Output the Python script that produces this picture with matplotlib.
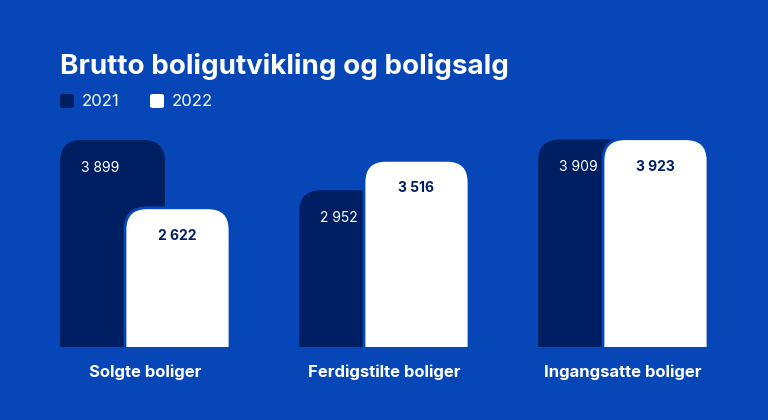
import matplotlib
matplotlib.use("Agg")
import matplotlib.pyplot as plt
from matplotlib.patches import FancyBboxPatch

categories = ["Solgte boliger", "Ferdigstilte boliger", "Ingangsatte boliger"]
v2021 = [3899, 2952, 3909]
v2022 = [2622, 3516, 3923]
labels2021 = ["3 899", "2 952", "3 909"]
labels2022 = ["2 622", "3 516", "3 923"]

BG = "#0646B6"
NAVY = "#001E62"
W, H = 768, 420
fig = plt.figure(figsize=(7.68, 4.2), dpi=100)
fig.patch.set_facecolor(BG)
plt.rcParams["font.family"] = "Inter"

bottom_px, top_px = 347, 100
ax = fig.add_axes([0, 1 - bottom_px / H, 1, (bottom_px - top_px) / H])
ax.set_facecolor(BG)
ppx = 239.0
ax.set_xlim(-145 / ppx, (W - 145) / ppx)
ymax = 3899 * (bottom_px - top_px) / (347 - 140)
ax.set_ylim(0, ymax)
ax.axis("off")

bw = 105 / ppx
r = 22 / ppx
ypp = ymax / (bottom_px - top_px)
aspect = (22 * ypp) / r
ext = 40 * ypp
for i in range(3):
    xl = i - 85 / ppx
    p = FancyBboxPatch((xl, -ext), bw, v2021[i] + ext,
                       boxstyle=f"round,pad=0,rounding_size={r}",
                       mutation_aspect=aspect, fc=NAVY, ec="none", clip_on=True)
    ax.add_patch(p); p.set_clip_path(ax.patch)
    xw = i - 20 / ppx
    p2 = FancyBboxPatch((xw, -ext), bw, v2022[i] + ext,
                        boxstyle=f"round,pad=0,rounding_size={r}",
                        mutation_aspect=aspect, fc="white", ec=BG, lw=2, clip_on=True)
    ax.add_patch(p2); p2.set_clip_path(ax.patch)
    ax.text(xl + 40 / ppx, v2021[i] - 28 * ypp, labels2021[i], color="white",
            ha="center", va="center", fontsize=10)
    ax.text(xw + bw / 2, v2022[i] - 28 * ypp, labels2022[i], color=NAVY,
            ha="center", va="center", fontsize=10, fontweight="bold")
    ax.text(i, -25 * ypp, categories[i], color="white", ha="center", va="center",
            fontsize=12, fontweight="bold", clip_on=False)

fig.text(60 / W, 1 - 66 / H, "Brutto boligutvikling og boligsalg", color="white",
         fontsize=20, fontweight="bold", va="center", ha="left")
for x0, col, lab in [(60, NAVY, "2021"), (150, "white", "2022")]:
    fig.patches.append(FancyBboxPatch((x0 / W, 1 - 108 / H), 14 / W, 14 / H,
                                      boxstyle="round,pad=0,rounding_size=0.004",
                                      transform=fig.transFigure, fc=col, ec="none"))
    fig.text((x0 + 22) / W, 1 - 101 / H, lab, color="white", fontsize=12,
             va="center", ha="left")

fig.savefig("out.png", dpi=100, facecolor=BG)
